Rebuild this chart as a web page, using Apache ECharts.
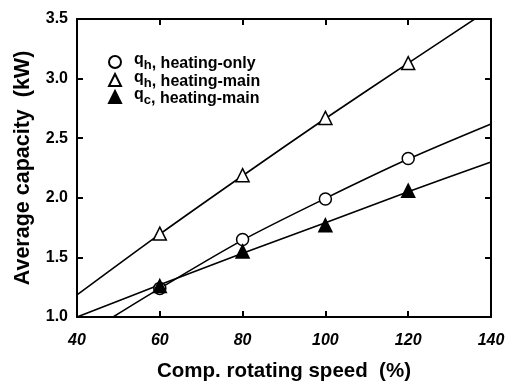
<!DOCTYPE html>
<html><head><meta charset="utf-8">
<script src="https://cdn.jsdelivr.net/npm/echarts@6/dist/echarts.min.js"></script>
<style>html,body{margin:0;padding:0;background:#fff}#c{width:512px;height:382px}</style>
</head><body><div id="c"></div>
<script>
const speeds = [60, 80, 100, 120];
const qhHeatingOnly = [1.24, 1.65, 1.99, 2.33];
const qhHeatingMain = [1.70, 2.19, 2.67, 3.13];
const qcHeatingMain = [1.26, 1.55, 1.77, 2.06];
// fitted curves
const fitOnlyX = [48.7, 60, 80, 100, 120, 140];
const fitOnlyY = [1.0, 1.24, 1.645, 1.995, 2.325, 2.62];
const fitMainHX = [40, 60, 80, 100, 120, 140];
const fitMainHY = [1.185, 1.695, 2.185, 2.665, 3.13, 3.59];
const fitMainCX = [40, 60, 80, 100, 120, 140];
const fitMainCY = [1.0, 1.27, 1.535, 1.79, 2.05, 2.30];
const names = ['qh_only', 'qh_main', 'qc_main'];
const labels = [['q','h',', heating-only'],['q','h',', heating-main'],['q','c',', heating-main']];

const zip = (a, b) => a.map((v, i) => [v, b[i]]);
const font = '"Liberation Sans", Arial, sans-serif';
const chart = echarts.init(document.getElementById('c'));
const lineSeries = (x, y) => ({type:'line', data: zip(x, y), smooth: 0.3, showSymbol:false, symbol:'none',
  lineStyle:{color:'#000', width:1.6}, clip:true, silent:true, z:2});
const markSeries = (name, y, symbol, fill) => ({type:'scatter', name, data: zip(speeds, y), symbol, symbolSize: symbol==='circle'?12:13,
  itemStyle:{color: fill, borderColor:'#000', borderWidth:1.5, opacity:1}, z:3});
const legendTops = [47, 65, 82];
const legends = names.map((n, i) => ({orient:'vertical', left:103, top:legendTops[i], itemWidth:12, itemHeight:12,
    data:[n],
    formatter: nm => { const l = labels[names.indexOf(nm)]; return '{q|'+l[0]+'}{s|'+l[1]+'}{t|'+l[2]+'}'; },
    textStyle:{fontFamily:font, fontWeight:'bold', fontSize:16, color:'#000', padding:[0,0,0,8],
      rich:{q:{fontFamily:font, fontWeight:'bold', fontSize:16, color:'#000', verticalAlign:'bottom', padding:[0,0,4,0]},
            s:{fontFamily:font, fontWeight:'bold', fontSize:13, color:'#000', verticalAlign:'bottom'},
            t:{fontFamily:font, fontWeight:'bold', fontSize:16, color:'#000', verticalAlign:'bottom'}}}}));
chart.setOption({
  animation:false,
  grid:{left:77, right:21, top:19, bottom:65, outerBoundsMode:'none', containLabel:false},
  legend: legends,
  xAxis:[{type:'value', min:40, max:140, interval:20, position:'bottom',
     axisLine:{show:true, onZero:false, lineStyle:{color:'#000', width:2}},
     axisTick:{show:true, inside:true, length:6, lineStyle:{color:'#000', width:2}},
     axisLabel:{fontFamily:font, fontWeight:'bold', fontStyle:'italic', fontSize:16, color:'#000', margin:16},
     splitLine:{show:false},
     name:'Comp. rotating speed  (%)', nameLocation:'middle', nameGap:44,
     nameTextStyle:{fontFamily:font, fontWeight:'bold', fontSize:20.5, color:'#000'}},
    {type:'value', min:40, max:140, interval:20, position:'top',
     axisLine:{show:true, onZero:false, lineStyle:{color:'#000', width:2}},
     axisTick:{show:true, inside:true, length:6, lineStyle:{color:'#000', width:2}},
     axisLabel:{show:false}, splitLine:{show:false}}],
  yAxis:[{type:'value', min:1.0, max:3.5, interval:0.5, position:'left',
     axisLine:{show:true, onZero:false, lineStyle:{color:'#000', width:2}},
     axisTick:{show:true, inside:true, length:6, lineStyle:{color:'#000', width:2}},
     axisLabel:{fontFamily:font, fontWeight:'bold', fontSize:16, color:'#000', margin:9, formatter: v => v.toFixed(1)},
     splitLine:{show:false},
     name:'Average capacity  (kW)', nameLocation:'middle', nameGap:43,
     nameTextStyle:{fontFamily:font, fontWeight:'bold', fontSize:21.5, color:'#000'}},
    {type:'value', min:1.0, max:3.5, interval:0.5, position:'right',
     axisLine:{show:true, onZero:false, lineStyle:{color:'#000', width:2}},
     axisTick:{show:true, inside:true, length:6, lineStyle:{color:'#000', width:2}},
     axisLabel:{show:false}, splitLine:{show:false}}],
  series:[
    lineSeries(fitOnlyX, fitOnlyY),
    lineSeries(fitMainHX, fitMainHY),
    lineSeries(fitMainCX, fitMainCY),
    markSeries('qh_only', qhHeatingOnly, 'circle', '#fff'),
    markSeries('qh_main', qhHeatingMain, 'triangle', '#fff'),
    markSeries('qc_main', qcHeatingMain, 'triangle', '#000')
  ]
});
</script></body></html>
